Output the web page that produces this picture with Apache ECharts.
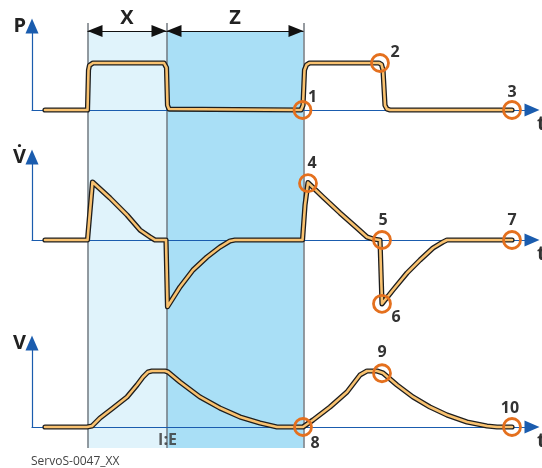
<!DOCTYPE html>
<html><head><meta charset="utf-8">
<script src="https://cdn.jsdelivr.net/npm/echarts@6/dist/echarts.min.js"></script>
<style>html,body{margin:0;padding:0;background:#fff}#c{width:542px;height:468px}</style>
</head><body><div id="c"></div>
<script>
// ---- data (time in arbitrary units 0..100) ----
const phaseEdges = [11.1, 26.9, 54.3];
const phaseNames = ['X', 'Z'];
const phaseSplitLabel = 'I:E';
const panelNames = ['P', 'V\u0307', 'V'];
const timeName = 't';

const pressure = [[2.6,0],[11.1,0],[11.3,0.85],[11.5,0.95],[11.8,0.99],[12.2,1],[26.4,1],[26.7,0.97],[26.9,0.9],[27.1,0.1],[27.4,0.02],[27.8,0],
  [53.8,0],[54.2,0.1],[54.5,0.85],[54.9,0.96],[55.5,1],[69.4,1],[69.9,0.97],[70.2,0.85],[70.6,0.1],[71,0.02],[71.6,0],[96,0]];

const flow = [[2.6,0],[11.1,0],[12.1,1.0],[12.3,0.99],[15.6,0.724],[19,0.431],[21.6,0.172],[23.6,0.052],[24.6,0],[26.8,0],[27.1,-1.15],
  [29.6,-0.81],[32.2,-0.517],[35,-0.293],[37.6,-0.121],[39.6,-0.017],[40.6,0],[54.1,0],[54.6,0.6],[55.2,0.99],
  [58.2,0.741],[61.6,0.466],[65,0.207],[67,0.052],[68.2,0.017],[69.6,0],[70,0],[70,-1.1],
  [72.2,-0.862],[75,-0.569],[77.6,-0.345],[80.2,-0.138],[82.2,-0.034],[83,0],[96,0]];

const volume = [[2.6,0],[11,0],[12,0.018],[13.6,0.161],[16.2,0.339],[19,0.536],[21,0.75],[22.2,0.893],[23.2,0.982],[24,1],[26.6,1],[27.2,0.982],
  [29.6,0.804],[33.6,0.536],[37.6,0.339],[41.6,0.179],[45.6,0.071],[49,0],[53.6,0],
  [54.2,0],[56.2,0.125],[59.6,0.357],[63,0.625],[65.6,0.929],[67,1],[69,1],[70.2,0.964],[73,0.75],[76.2,0.536],[79.6,0.357],[83,0.214],[87,0.089],[91,0.018],[93,0],[96,0]];

const markerNames = ['1','2','3','4','5','6','7','8','9','10'];
const markerPanel = [0,0,0,1,1,1,1,2,2,2];
const markerT = [54.1, 69.6, 96, 55.2, 70, 70, 96, 54.2, 70, 96];
const markerV = [0, 1, 0, 0.98, 0, -1.1, 0, 0, 0.96, 0];

const footnote = 'ServoS-0047_XX';

// ---- style ----
const FONT = '"Open Sans", "Noto Sans", sans-serif';
const AXIS_BLUE = '#1a5cae';
const GOLD = '#f9c270';
const OUTLINE = '#1e1e1e';
const ORANGE = '#e4701e';
const markerLabelOffsets = [[10,-13],[15,-11],[0,-18],[4,-20],[1,-20],[14,14],[0,-20],[12,16],[0,-21],[-2,-19]];
const panelGrids = [{top:26,height:84,max:1.787},{top:157,height:83,max:1.431},{top:343,height:84,max:1.5}];
const bandTop = (448-31)/425;

const grid = [{left:32, width:500, top:23, height:425, outerBoundsMode:'none', containLabel:false}];
const xAxis = [{gridIndex:0, type:'value', min:0, max:100, show:false}];
const yAxis = [{gridIndex:0, type:'value', min:0, max:1, show:false}];
panelGrids.forEach((g, i) => {
  grid.push({left:32, width:500, top:g.top, height:g.height, outerBoundsMode:'none', containLabel:false});
  xAxis.push({gridIndex:i+1, type:'value', min:0, max:100,
    axisLine:{show:true, lineStyle:{color:AXIS_BLUE, width:1.2}, symbol:['none','triangle'], symbolSize:[13,15]},
    axisTick:{show:false}, axisLabel:{show:false}, splitLine:{show:false},
    name:timeName, nameLocation:'end', nameGap:5,
    nameTextStyle:{fontFamily:FONT, fontSize:20, fontWeight:'bold', color:'#333', align:'left', verticalAlign:'top', padding:[4,0,0,0]}});
  yAxis.push({gridIndex:i+1, type:'value', min:0, max:g.max,
    axisLine:{show:true, lineStyle:{color:AXIS_BLUE, width:1.2}, symbol:['none','triangle'], symbolSize:[13,15]},
    axisTick:{show:false}, axisLabel:{show:false}, splitLine:{show:false},
    name:panelNames[i], nameLocation:'end', nameGap:0,
    nameTextStyle:{fontFamily:FONT, fontSize:20, fontWeight:'bold', color:'#222', align:'right', verticalAlign:'middle', padding:[0,6,0,0]}});
});

const arrowEnd = (x) => ({xAxis:x, yAxis:bandTop, symbol:'triangle', symbolSize:[12,15], symbolOffset:[0,7.5]});

const series = [];
// phase bands
series.push({type:'line', xAxisIndex:0, yAxisIndex:0, data:[], silent:true,
  markArea:{silent:true, z:-2,
    data: phaseNames.map((n, i) => [
      {xAxis: phaseEdges[i], yAxis: 0, name: n, itemStyle:{color: i === 0 ? '#e0f3fb' : '#a9dff6'}},
      {xAxis: phaseEdges[i+1], yAxis: bandTop}]),
    label:{show:true, position:'top', distance:3, fontFamily:FONT, fontSize:20, fontWeight:'bold', color:'#222'}},
  markLine:{silent:true, z:-1, symbol:'none', label:{show:false},
    lineStyle:{color:'#737a80', width:1.5, type:'solid'},
    data: phaseEdges.map(e => [{xAxis:e, yAxis:0}, {xAxis:e, yAxis:1}])}
});
// phase arrows
series.push({type:'line', xAxisIndex:0, yAxisIndex:0, data:[], silent:true,
  markLine:{silent:true, z:-1, symbol:'triangle', symbolSize:12,
    label:{show:false}, lineStyle:{color:'#111', width:1.2, type:'solid'},
    itemStyle:{color:'#111'},
    data: phaseNames.map((n, i) => [arrowEnd(phaseEdges[i]), arrowEnd(phaseEdges[i+1])])}
});
// I:E label
series.push({type:'scatter', xAxisIndex:0, yAxisIndex:0, silent:true, clip:false, symbolSize:1, itemStyle:{color:'rgba(0,0,0,0)'},
  data:[{name:phaseSplitLabel, value:[phaseEdges[1], 0]}],
  label:{show:true, position:'top', distance:-1, offset:[1,0], formatter:'{b}', fontFamily:FONT, fontSize:16, fontWeight:'bold', color:'#333'}});

// curves
[pressure, flow, volume].forEach((d, i) => {
  series.push({type:'line', xAxisIndex:i+1, yAxisIndex:i+1, data:d, symbol:'none', clip:false, silent:true, z:3,
    lineStyle:{color:OUTLINE, width:5.2, cap:'round', join:'round'}});
  series.push({type:'line', xAxisIndex:i+1, yAxisIndex:i+1, data:d, symbol:'none', clip:false, silent:true, z:4,
    lineStyle:{color:GOLD, width:2.6, cap:'round', join:'round'}});
});

// markers
[0,1,2].forEach(p => {
  const items = [];
  markerNames.forEach((n, k) => {
    if (markerPanel[k] !== p) return;
    items.push({name:n, value:[markerT[k], markerV[k]], label:{offset:markerLabelOffsets[k]}});
  });
  series.push({type:'scatter', xAxisIndex:p+1, yAxisIndex:p+1, data:items, clip:false, silent:true, z:5,
    symbol:'circle', symbolSize:17,
    itemStyle:{color:'rgba(0,0,0,0)', borderColor:ORANGE, borderWidth:2.8, opacity:1},
    label:{show:true, position:'inside', formatter:'{b}', fontFamily:FONT, fontSize:16, fontWeight:'bold', color:'#333'}});
});

const chart = echarts.init(document.getElementById('c'), null, {renderer:'canvas'});
chart.setOption({
  animation:false,
  backgroundColor:'#fff',
  title:{text:footnote, left:31, top:455, padding:0, textStyle:{fontFamily:FONT, fontSize:12, fontWeight:'normal', color:'#444', lineHeight:13}},
  grid, xAxis, yAxis, series
});
</script></body></html>
